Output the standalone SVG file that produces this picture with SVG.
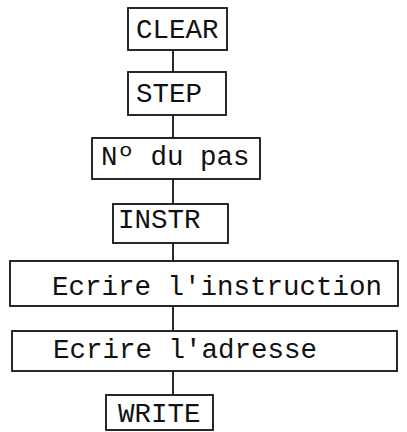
<svg xmlns="http://www.w3.org/2000/svg" width="407" height="432" viewBox="0 0 407 432">
<style>
.box{fill:#fff;stroke:#111;stroke-width:1.8}
.lbl{font-family:"Liberation Mono","Courier New",monospace;font-size:27.5px;fill:#111}
.con{stroke:#111;stroke-width:1.8;fill:none}
</style>
<rect width="407" height="432" fill="#fff"/>
<g id="connectors">
<line class="con" x1="173" y1="50" x2="173" y2="72"/>
<line class="con" x1="173" y1="115" x2="173" y2="138"/>
<line class="con" x1="173" y1="179" x2="173" y2="204"/>
<line class="con" x1="173" y1="243" x2="173" y2="261"/>
<line class="con" x1="173" y1="306" x2="173" y2="331"/>
<line class="con" x1="173" y1="371" x2="173" y2="395"/>
</g>
<g id="clear">
<rect class="box" x="128" y="8" width="99" height="42"/>
<text class="lbl" x="136" y="38">CLEAR</text>
</g>
<g id="step">
<rect class="box" x="128" y="72" width="98" height="43"/>
<text class="lbl" x="136" y="102">STEP</text>
</g>
<g id="numero">
<rect class="box" x="92" y="138" width="168" height="41"/>
<text class="lbl" x="101" y="165">Nº du pas</text>
</g>
<g id="instr">
<rect class="box" x="113" y="204" width="115" height="39"/>
<text class="lbl" x="118" y="228">INSTR</text>
</g>
<g id="ecrire-instruction">
<rect class="box" x="10" y="261" width="388" height="45"/>
<text class="lbl" x="52" y="295">Ecrire l'instruction</text>
</g>
<g id="ecrire-adresse">
<rect class="box" x="12" y="331" width="385" height="40"/>
<text class="lbl" x="53" y="358">Ecrire l'adresse</text>
</g>
<g id="write">
<rect class="box" x="106" y="395" width="107" height="35"/>
<text class="lbl" x="118" y="422">WRITE</text>
</g>
</svg>
